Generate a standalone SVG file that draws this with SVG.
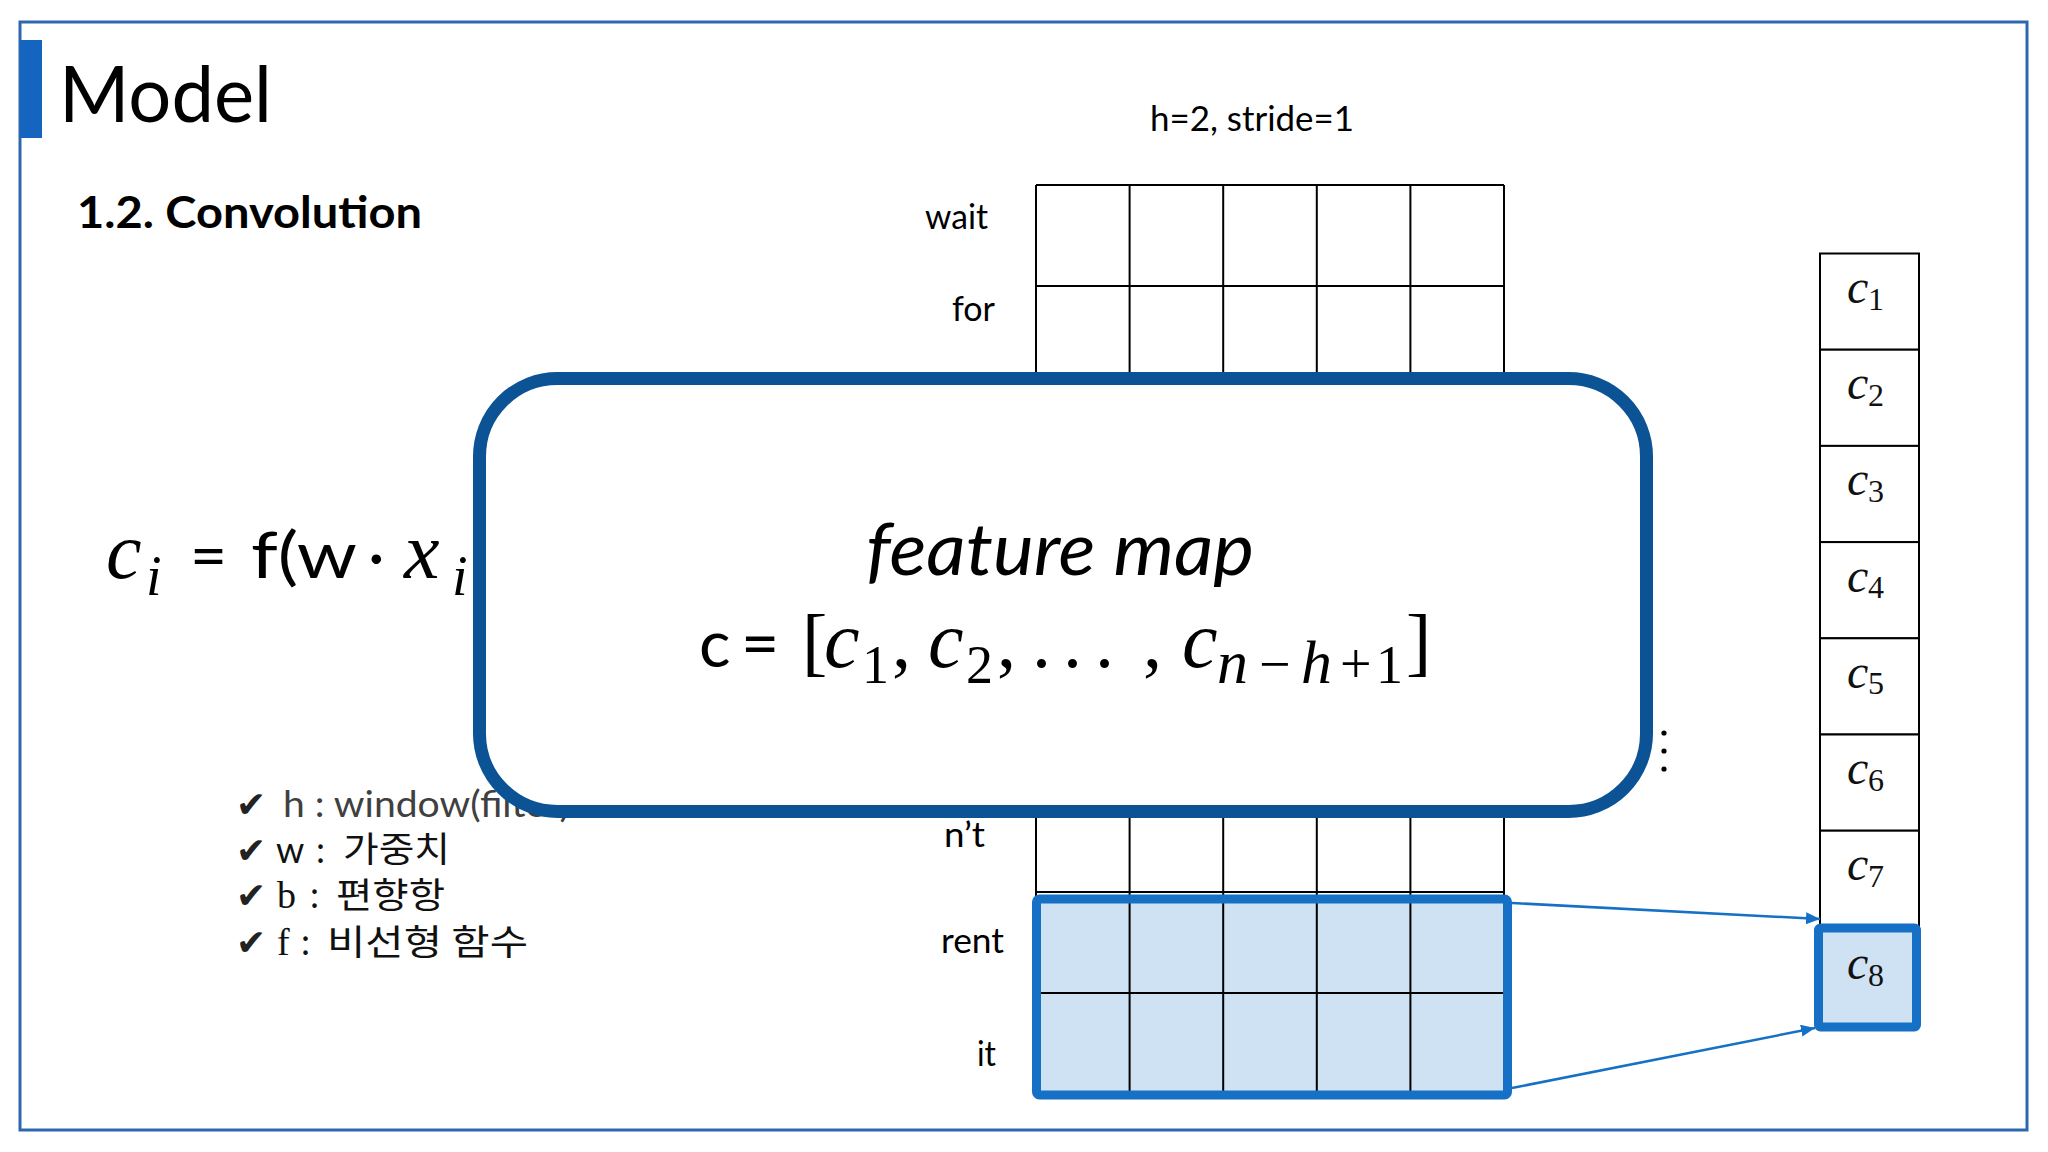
<svg xmlns="http://www.w3.org/2000/svg" width="2048" height="1152" viewBox="0 0 2048 1152">
<style>
.sans{font-family:"Lato","Liberation Sans","Noto Sans CJK KR",sans-serif}
.kr{font-family:"Noto Sans CJK KR","Noto Sans",sans-serif;font-size:35px;fill:#111}
.serif{font-family:"Liberation Serif","DejaVu Serif",serif}
.mi{font-family:"Liberation Serif","DejaVu Serif",serif;font-style:italic}
.lbl{font-family:"Lato","Liberation Sans",sans-serif;font-size:34px;fill:#000}
.cell{fill:#fff;stroke:#000;stroke-width:2}
.grid{stroke:#000;stroke-width:2;fill:none}
.hl{fill:#CFE2F3}
.hls{fill:none;stroke:#1570C6;stroke-width:9}
.conn{stroke:#1570C6;stroke-width:2.5;fill:none;marker-end:url(#ah)}
.chk{font-family:"DejaVu Sans",sans-serif;font-size:36px;fill:#222}
.lst{font-family:"Lato","Liberation Sans",sans-serif;font-size:36px}
</style>
<defs>
<marker id="ah" markerUnits="userSpaceOnUse" markerWidth="14" markerHeight="12" refX="14" refY="6" orient="auto">
<path d="M0,0 L14,6 L0,12 z" fill="#1570C6"/>
</marker>
</defs>
<rect x="0" y="0" width="2048" height="1152" fill="#fff"/>
<rect id="frame" x="20" y="22" width="2007" height="1108" fill="none" stroke="#2E67AE" stroke-width="3"/>
<g id="title">
<rect x="20" y="40" width="22" height="98" fill="#1565C0"/>
<text x="59" y="122" class="sans" font-size="77" textLength="213" lengthAdjust="spacingAndGlyphs">Model</text>
<text x="77" y="228" class="sans" font-size="44" font-weight="bold" textLength="345" lengthAdjust="spacingAndGlyphs">1.2. Convolution</text>
</g>
<text id="hlabel" x="1150" y="131" class="sans" font-size="34" textLength="204" lengthAdjust="spacingAndGlyphs">h=2, stride=1</text>

<g id="formula-left">
<text x="106" y="578" class="mi" font-size="80">c</text>
<text x="146" y="595" class="mi" font-size="56">i</text>
<text x="190" y="578" class="sans" font-size="64">=</text>
<text x="251" y="578" class="sans" font-size="64" textLength="106" lengthAdjust="spacingAndGlyphs">f(w</text>
<text x="368" y="578" class="sans" font-size="64">·</text>
<text x="404" y="578" class="mi" font-size="80">x</text>
<text x="452" y="595" class="mi" font-size="56">i</text>
</g>

<g id="legend">
<text x="236" y="817" class="chk">✔</text>
<text x="283" y="817" class="lst" fill="#404040" textLength="287" lengthAdjust="spacingAndGlyphs">h : window(filter)</text>
<text x="236" y="863" class="chk">✔</text>
<text x="276" y="863" class="lst" fill="#111">w</text>
<text x="316" y="863" class="lst" fill="#111">:</text>
<text x="343" y="862" class="kr" textLength="107" lengthAdjust="spacingAndGlyphs">가중치</text>
<text x="236" y="908" class="chk">✔</text>
<text x="277" y="908" class="serif" font-size="38" fill="#111">b</text>
<text x="310" y="908" class="lst" fill="#111">:</text>
<text x="336" y="908" class="kr" textLength="109" lengthAdjust="spacingAndGlyphs">편향항</text>
<text x="236" y="955" class="chk">✔</text>
<text x="277" y="955" class="serif" font-size="38" fill="#111">f</text>
<text x="301" y="955" class="lst" fill="#111">:</text>
<text x="327" y="955" class="kr" textLength="201" lengthAdjust="spacingAndGlyphs">비선형 함수</text>
</g>

<g id="embedding-matrix">
<text x="925" y="229" class="lbl" textLength="63" lengthAdjust="spacingAndGlyphs">wait</text>
<text x="952" y="321" class="lbl" textLength="43" lengthAdjust="spacingAndGlyphs">for</text>
<text x="944" y="847" class="lbl" textLength="41" lengthAdjust="spacingAndGlyphs">n’t</text>
<text x="941" y="953" class="lbl" textLength="63" lengthAdjust="spacingAndGlyphs">rent</text>
<text x="977" y="1066" class="lbl" textLength="19" lengthAdjust="spacingAndGlyphs">it</text>
<rect x="1036.5" y="899" width="471" height="196" class="hl"/>
<path class="grid" d="M1036,185V1094 M1129.6,185V1094 M1223.2,185V1094 M1316.8,185V1094 M1410.4,185V1094 M1504,185V1094
M1036,185H1504 M1036,286H1504 M1036,387H1504 M1036,488H1504 M1036,589H1504 M1036,690H1504 M1036,791H1504 M1036,892H1504 M1036,993H1504 M1036,1094H1504"/>
<rect x="1036.5" y="899" width="471" height="196" rx="3" class="hls"/>
</g>

<g id="dots">
<circle cx="1664" cy="733" r="2.6" fill="#000"/>
<circle cx="1664" cy="751" r="2.6" fill="#000"/>
<circle cx="1664" cy="769" r="2.6" fill="#000"/>
</g>

<g id="feature-vector">
<rect x="1820" y="253.5" width="99" height="96.2" class="cell"/>
<rect x="1820" y="349.7" width="99" height="96.2" class="cell"/>
<rect x="1820" y="445.9" width="99" height="96.2" class="cell"/>
<rect x="1820" y="542.1" width="99" height="96.2" class="cell"/>
<rect x="1820" y="638.3" width="99" height="96.2" class="cell"/>
<rect x="1820" y="734.5" width="99" height="96.2" class="cell"/>
<rect x="1820" y="830.7" width="99" height="96.2" class="cell"/>
<rect x="1818.5" y="928" width="98" height="99" rx="2" class="hl"/>
<rect x="1818.5" y="928" width="98" height="99" rx="2" class="hls"/>
<g class="mi" fill="#111">
<text x="1847" y="303" font-size="48">c</text><text x="1868" y="309.5" font-size="32" font-style="normal">1</text>
<text x="1847" y="399.2" font-size="48">c</text><text x="1868" y="405.7" font-size="32" font-style="normal">2</text>
<text x="1847" y="495.4" font-size="48">c</text><text x="1868" y="501.9" font-size="32" font-style="normal">3</text>
<text x="1847" y="591.6" font-size="48">c</text><text x="1868" y="598.1" font-size="32" font-style="normal">4</text>
<text x="1847" y="687.8" font-size="48">c</text><text x="1868" y="694.3" font-size="32" font-style="normal">5</text>
<text x="1847" y="784" font-size="48">c</text><text x="1868" y="790.5" font-size="32" font-style="normal">6</text>
<text x="1847" y="880.2" font-size="48">c</text><text x="1868" y="886.7" font-size="32" font-style="normal">7</text>
<text x="1847" y="979" font-size="48">c</text><text x="1868" y="985.5" font-size="32" font-style="normal">8</text>
</g>
</g>

<g id="connectors">
<line x1="1512" y1="903" x2="1820" y2="919" class="conn"/>
<line x1="1512" y1="1088" x2="1815" y2="1028" class="conn"/>
</g>

<g id="feature-map-box">
<rect x="479.5" y="378.5" width="1167" height="433" rx="78" fill="#fff" stroke="#0B5394" stroke-width="13"/>
<text x="866" y="575" class="sans" font-size="72" font-style="italic" textLength="388" lengthAdjust="spacingAndGlyphs">feature map</text>
<text x="699" y="667" class="sans" font-size="66">c</text>
<text x="741" y="667" class="sans" font-size="66">=</text>
<text x="802" y="667" class="serif" font-size="76">[</text>
<text x="824" y="667" class="mi" font-size="80">c</text>
<text x="862" y="683" class="serif" font-size="54">1</text>
<text x="892" y="667" class="serif" font-size="76">,</text>
<text x="928" y="667" class="mi" font-size="80">c</text>
<text x="966" y="683" class="serif" font-size="54">2</text>
<text x="997" y="667" class="serif" font-size="76">,</text>
<text x="1032" y="667" class="serif" font-size="76">.</text>
<text x="1063" y="667" class="serif" font-size="76">.</text>
<text x="1095" y="667" class="serif" font-size="76">.</text>
<text x="1143" y="667" class="serif" font-size="76">,</text>
<text x="1182" y="667" class="mi" font-size="80">c</text>
<text x="1217" y="683" class="mi" font-size="62">n</text>
<text x="1259" y="683" class="serif" font-size="56">−</text>
<text x="1301" y="683" class="mi" font-size="62">h</text>
<text x="1340" y="683" class="serif" font-size="56">+</text>
<text x="1376" y="683" class="serif" font-size="54">1</text>
<text x="1406" y="667" class="serif" font-size="76">]</text>
</g>
</svg>
